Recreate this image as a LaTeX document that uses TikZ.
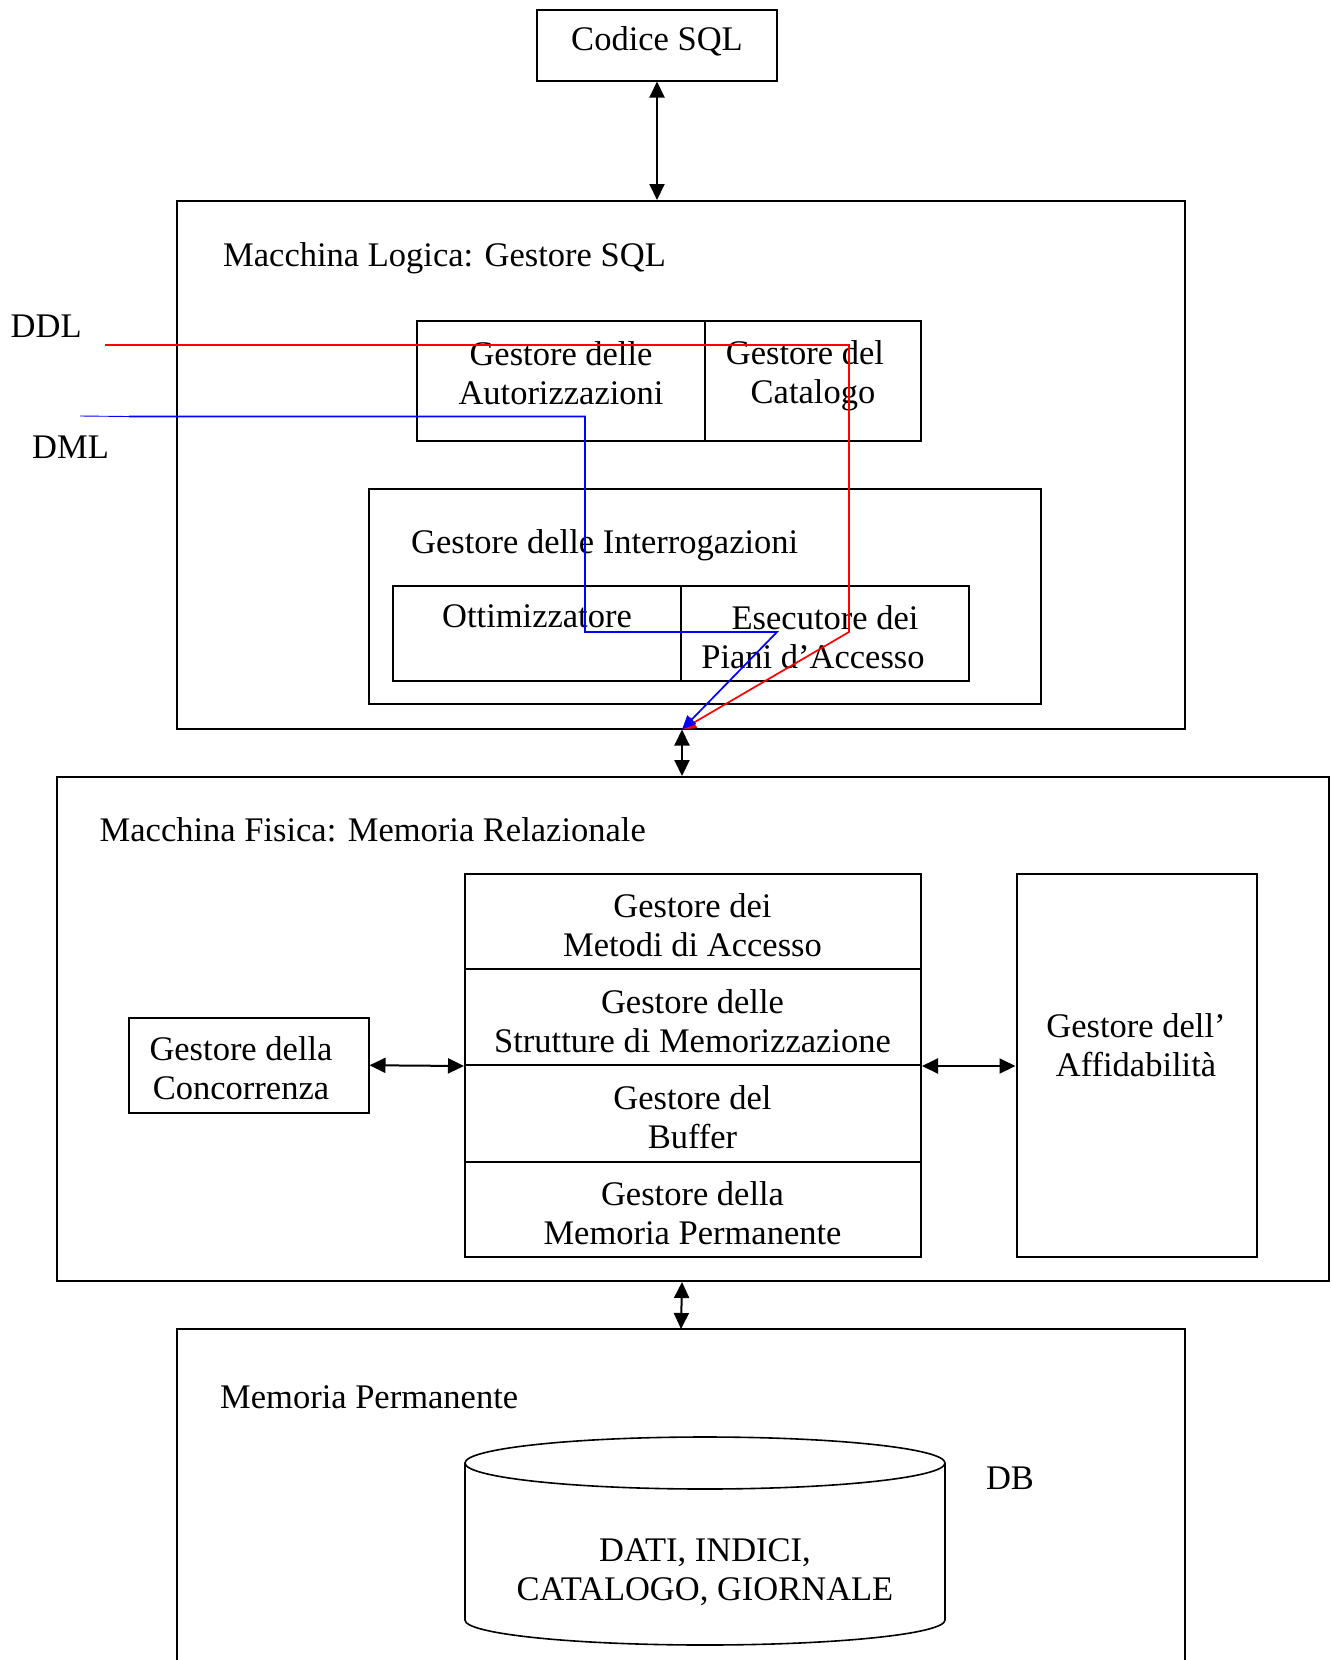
\documentclass[tikz,border=0pt]{standalone}
\usepackage{fontspec}
\setmainfont{Liberation Serif}
\usetikzlibrary{arrows.meta,fit}
\tikzset{
  box/.style={draw, line width=2pt, inner sep=0pt},
  txt/.style={inner sep=0pt, align=center, font=\fontsize{34.5}{39}\selectfont},
  dbl/.style={line width=2pt, {Triangle[length=16pt,width=15pt]}-{Triangle[length=16pt,width=15pt]}},
  ddlline/.style={red, line width=1.7pt, -{Triangle[length=14pt,width=12pt]}},
  dmlline/.style={blue, line width=1.7pt, -{Triangle[length=14pt,width=12pt]}},
}
\begin{document}
\begin{tikzpicture}[x=1pt,y=-1pt]
\useasboundingbox (0,0) rectangle (1331,1660);

% Codice SQL
\node[box, fit={(537,9.5)(777,80.5)}] (sql) {};
\node[txt, anchor=base] (sqlt) at (657,50) {Codice SQL};

% Macchina logica
\node[box, fit={(177,201)(1185,728.5)}] (logic) {};
\node[txt, anchor=base west] (logict) at (223,266) {Macchina Logica: Gestore SQL};

\node[box, fit={(417,321)(705,440.5)}] (aut) {};
\node[box, fit={(705,321)(921,440.5)}] (cat) {};
\node[txt] (autt) at (561,373) {Gestore delle\\Autorizzazioni};
\node[txt] (catt) at (813,376) {Gestore del\hspace*{16pt}\\Catalogo};

\node[box, fit={(368.5,489)(1041,704)}] (interr) {};
\node[txt, anchor=base west] (interrt) at (411,553) {Gestore delle Interrogazioni};
\node[box, fit={(393,585.5)(681,681)}] (ottim) {};
\node[box, fit={(681,585.5)(969,681)}] (esec) {};
\node[txt, anchor=base] (ottimt) at (537,627) {Ottimizzatore};
\node[txt] (esect) at (825,637) {Esecutore dei\\Piani d'Accesso\hspace*{24pt}};

% Macchina fisica
\node[box, fit={(57,777)(1329,1281)}] (phys) {};
\node[txt, anchor=base west] (physt) at (99.5,841) {Macchina Fisica: Memoria Relazionale};

\node[box, fit={(465,873.5)(921,969)}] (metodi) {};
\node[box, fit={(465,969)(921,1065)}] (strut) {};
\node[box, fit={(465,1065)(921,1161.5)}] (buffer) {};
\node[box, fit={(465,1161.5)(921,1257)}] (mperm) {};
\node[txt] (metodit) at (692.5,925) {Gestore dei\\Metodi di Accesso};
\node[txt] (strutt) at (692.5,1021) {Gestore delle\\Strutture di Memorizzazione};
\node[txt] (buffert) at (692.5,1117) {Gestore del\\Buffer};
\node[txt] (mpermt) at (692.5,1213) {Gestore della\\Memoria Permanente};

\node[box, fit={(129,1017.5)(368.5,1113)}] (conc) {};
\node[txt] (conct) at (241,1068) {Gestore della\\Concorrenza};

\node[box, fit={(1016.5,873.5)(1257,1257)}] (aff) {};
\node[txt] (afft) at (1136,1045) {Gestore dell'\\Affidabilità};

% Memoria permanente (open at the bottom)
\draw[line width=2pt] (177,1670) -- (177,1329) -- (1185,1329) -- (1185,1670);
\coordinate (memtop) at (681,1329);
\node[txt, anchor=base west] (memt) at (220,1408) {Memoria Permanente};

% DB cylinder
\draw[line width=1.6pt] (705,1463) ellipse [x radius=240, y radius=26];
\draw[line width=1.6pt] (465,1463) -- (465,1620) arc[start angle=180, end angle=360, x radius=240, y radius=-25] -- (945,1463);
\node[txt] (dati) at (705,1572) {DATI, INDICI,\\CATALOGO, GIORNALE};
\node[txt, anchor=base] (db) at (1010,1489) {DB};

% DDL / DML labels
\node[txt, anchor=base west] (ddl) at (10.5,337) {DDL};
\node[txt, anchor=base west] (dml) at (32,458) {DML};

% black connectors
\draw[dbl] (sql.south) -- (sql.south |- logic.north);
\draw[dbl] (logic.south -| ottim.east) -- (phys.north -| ottim.east);
\draw[dbl] (phys.south -| ottim.east) -- (memtop);
\draw[dbl] (conc.east) -- (strut.south west);
\draw[dbl] (strut.south east) -- (strut.south east -| aff.west);

% DDL / DML flows
\coordinate (ddlstart) at (105,345);
\coordinate (dmlthin) at (80,416);
\coordinate (dmlstart) at (129,416.5);
\draw[ddlline] (ddlstart) -- (849,345) -- (849,632) -- (logic.south -| ottim.east);
\draw[blue, line width=0.9pt] (dmlthin) -- (dmlstart);
\draw[dmlline] (dmlstart) -- (585,416.5) -- (585,632) -- (777,632) -- (logic.south -| ottim.east);
\end{tikzpicture}
\end{document}
